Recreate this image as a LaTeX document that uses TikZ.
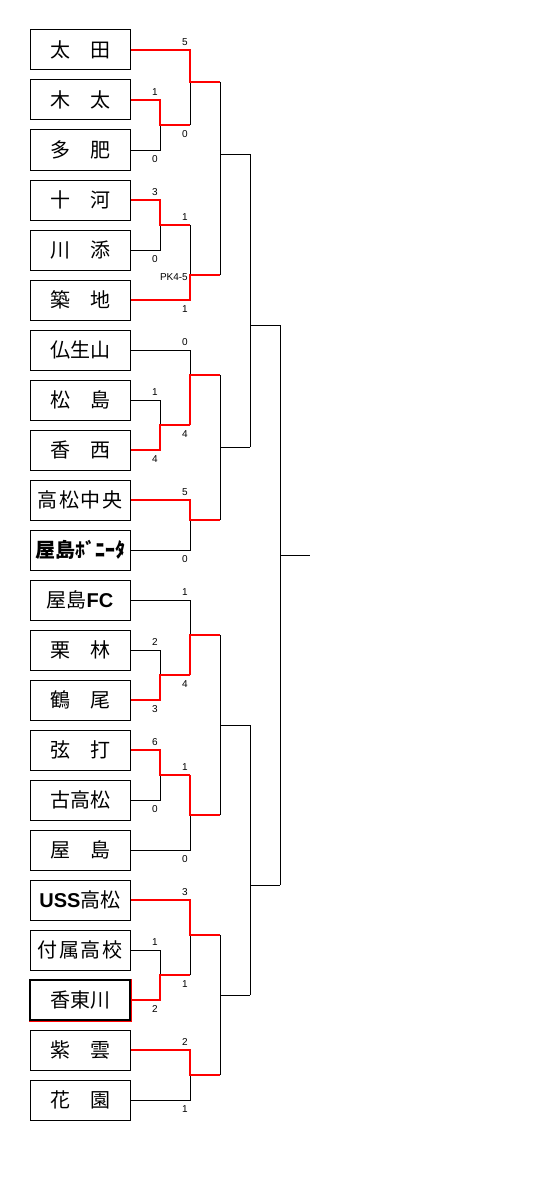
\documentclass[tikz,border=0pt]{standalone}
\usepackage{fontspec}
\usepackage{tikz}
\setmainfont{Liberation Sans}
\newfontfamily\jp{Noto Sans CJK JP}
\newcommand{\latbf}[1]{{\normalfont\bfseries #1}}
\definecolor{winred}{HTML}{FF0000}

\tikzset{
  team/.style={rectangle,draw=black,line width=1pt,fill=white,minimum width=100pt,minimum height=40pt,inner sep=0pt,font=\jp\fontsize{20}{20}\selectfont},
  score/.style={inner sep=0pt,font=\fontsize{10}{10}\selectfont},
  win/.style={winred,line width=2pt},
  lose/.style={black,line width=1pt},
}

\begin{document}
\begin{tikzpicture}[x=1pt,y=-1pt]
\useasboundingbox (0,0) rectangle (540,1180);
% teams
\node[team] (t0) at (80,50) {太　田};
\node[team] (t1) at (80,100) {木　太};
\node[team] (t2) at (80,150) {多　肥};
\node[team] (t3) at (80,200) {十　河};
\node[team] (t4) at (80,250) {川　添};
\node[team] (t5) at (80,300) {築　地};
\node[team] (t6) at (80,350) {仏生山};
\node[team] (t7) at (80,400) {松　島};
\node[team] (t8) at (80,450) {香　西};
\node[team] (t9) at (80,500) {高\kern1.5pt松\kern1.5pt中\kern1.5pt央};
\node[team] (t10) at (80,550) {\bfseries 屋島ﾎﾞﾆｰﾀ};
\node[team] (t11) at (80,600) {屋島\latbf{FC}};
\node[team] (t12) at (80,650) {栗　林};
\node[team] (t13) at (80,700) {鶴　尾};
\node[team] (t14) at (80,750) {弦　打};
\node[team] (t15) at (80,800) {古高松};
\node[team] (t16) at (80,850) {屋　島};
\node[team] (t17) at (80,900) {\latbf{USS}高松};
\node[team] (t18) at (80,950) {付\kern1.5pt属\kern1.5pt高\kern1.5pt校};
\node[team,line width=1.6pt,preaction={draw=winred,line width=3pt}] (t19) at (80,1000) {香東川};
\node[team] (t20) at (80,1050) {紫　雲};
\node[team] (t21) at (80,1100) {花　園};

% junctions
\coordinate (mA) at (160,125);
\coordinate (mC) at (160,225);
\coordinate (mF) at (160,425);
\coordinate (mK) at (160,675);
\coordinate (mM) at (160,775);
\coordinate (mP) at (160,975);
\coordinate (mB) at (190,82);
\coordinate (mD) at (190,275);
\coordinate (mG) at (190,375);
\coordinate (mH) at (190,520);
\coordinate (mL) at (190,635);
\coordinate (mN) at (190,815);
\coordinate (mQ) at (190,935);
\coordinate (mR) at (190,1075);
\coordinate (mE) at (220,154);
\coordinate (mI) at (220,447);
\coordinate (mO) at (220,725);
\coordinate (mS) at (220,995);
\coordinate (mJ) at (250,325);
\coordinate (mT) at (250,885);
\coordinate (mZ) at (280,555);
\coordinate (champ) at (310,555);

% losers and open matches
\draw[lose] (t2.east) -| (mA);
\draw[lose] (mA -| mB) -- (mB);
\draw[lose] (t4.east) -| (mC);
\draw[lose] (mC -| mD) -- (mD);
\draw[lose] (mB -| mE) -- (mD -| mE);
\draw[lose] (mE) -- (mE -| mJ);
\draw[lose] (t7.east) -| (mF);
\draw[lose] (t6.east) -| (mG);
\draw[lose] (t10.east) -| (mH);
\draw[lose] (mG -| mI) -- (mH -| mI);
\draw[lose] (mI) -- (mI -| mJ);
\draw[lose] (mE -| mJ) -- (mI -| mJ);
\draw[lose] (mJ) -- (mJ -| mZ);
\draw[lose] (t12.east) -| (mK);
\draw[lose] (t11.east) -| (mL);
\draw[lose] (t15.east) -| (mM);
\draw[lose] (t16.east) -| (mN);
\draw[lose] (mL -| mO) -- (mN -| mO);
\draw[lose] (mO) -- (mO -| mT);
\draw[lose] (t18.east) -| (mP);
\draw[lose] (mP -| mQ) -- (mQ);
\draw[lose] (t21.east) -| (mR);
\draw[lose] (mQ -| mS) -- (mR -| mS);
\draw[lose] (mS) -- (mS -| mT);
\draw[lose] (mO -| mT) -- (mS -| mT);
\draw[lose] (mT) -- (mT -| mZ);
\draw[lose] (mJ -| mZ) -- (mT -| mZ);
\draw[lose] (mZ) -- (champ);

% winners
\draw[win] (t1.east) -| (mA) -- (mA -| mB);
\draw[win] (t0.east) -| (mB) -- (mB -| mE);
\draw[win] (t3.east) -| (mC) -- (mC -| mD);
\draw[win] (t5.east) -| (mD) -- (mD -| mE);
\draw[win] (t8.east) -| (mF) -- (mF -| mG);
\draw[win] (mF -| mG) -- (mG) -- (mG -| mI);
\draw[win] (t9.east) -| (mH) -- (mH -| mI);
\draw[win] (t13.east) -| (mK) -- (mK -| mL);
\draw[win] (mK -| mL) -- (mL) -- (mL -| mO);
\draw[win] (t14.east) -| (mM) -- (mM -| mN);
\draw[win] (mM -| mN) -- (mN) -- (mN -| mO);
\draw[win] (t19.east) -| (mP) -- (mP -| mQ);
\draw[win] (t17.east) -| (mQ) -- (mQ -| mS);
\draw[win] (t20.east) -| (mR) -- (mR -| mS);

% scores
\node[score] (s0) at (185,42) {5};
\node[score] (s1) at (155,92) {1};
\node[score] (s2) at (185,134) {0};
\node[score] (s3) at (155,159) {0};
\node[score] (s4) at (155,192) {3};
\node[score] (s5) at (185,217) {1};
\node[score] (s6) at (155,259) {0};
\node[score,anchor=east] (pk) at (188,277) {PK4-5};
\node[score] (s7) at (185,309) {1};
\node[score] (s8) at (185,342) {0};
\node[score] (s9) at (155,392) {1};
\node[score] (s10) at (185,434) {4};
\node[score] (s11) at (155,459) {4};
\node[score] (s12) at (185,492) {5};
\node[score] (s13) at (185,559) {0};
\node[score] (s14) at (185,592) {1};
\node[score] (s15) at (155,642) {2};
\node[score] (s16) at (185,684) {4};
\node[score] (s17) at (155,709) {3};
\node[score] (s18) at (155,742) {6};
\node[score] (s19) at (185,767) {1};
\node[score] (s20) at (155,809) {0};
\node[score] (s21) at (185,859) {0};
\node[score] (s22) at (185,892) {3};
\node[score] (s23) at (155,942) {1};
\node[score] (s24) at (185,984) {1};
\node[score] (s25) at (155,1009) {2};
\node[score] (s26) at (185,1042) {2};
\node[score] (s27) at (185,1109) {1};
\end{tikzpicture}
\end{document}
